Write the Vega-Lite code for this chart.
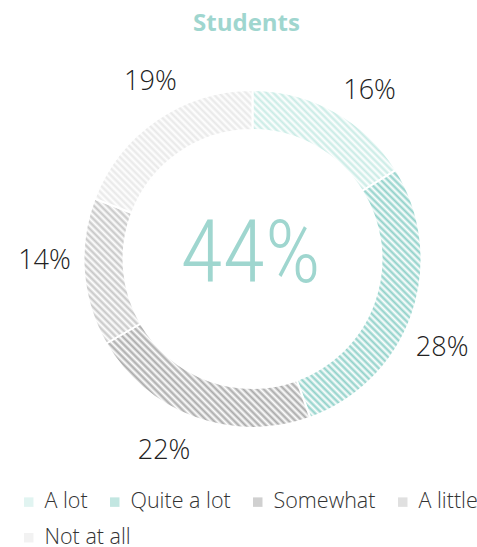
{
  "$schema": "https://vega.github.io/schema/vega-lite/v6.json",
  "width": 449,
  "height": 438,
  "autosize": {"type": "none"},
  "padding": {"left": 28, "top": 40, "right": 0, "bottom": 69},
  "background": "#ffffff",
  "title": {"text": "Students", "color": "#9fd6cf", "font": "Open Sans", "fontSize": 24, "fontWeight": "bold", "anchor": "middle", "offset": 4, "dx": -6},
  "config": {"view": {"stroke": null}, "legend": {"padding": 0}},
  "layer": [
    {
      "data": {"values": [
        {"cat": "A lot", "value": 16, "order": 1, "label": "16%"},
        {"cat": "Quite a lot", "value": 28, "order": 2, "label": "28%"},
        {"cat": "Somewhat", "value": 22, "order": 3, "label": "22%"},
        {"cat": "A little", "value": 14, "order": 4, "label": "14%"},
        {"cat": "Not at all", "value": 19, "order": 5, "label": "19%"}
      ]},
      "resolve": {"scale": {"theta": "independent"}},
      "layer": [
        {
          "mark": {"type": "arc", "outerRadius": 169, "innerRadius": 129, "stroke": "#ffffff", "strokeWidth": 2},
          "encoding": {
            "theta": {"field": "value", "type": "quantitative", "stack": true},
            "order": {"field": "order", "type": "quantitative"},
            "color": {
              "field": "cat", "type": "nominal",
              "scale": {"domain": ["A lot", "Quite a lot", "Somewhat", "A little", "Not at all"], "range": ["#c8ebe5", "#8fd1c9", "#a9a9a9", "#c6c6c6", "#e8e8e8"]},
              "legend": {"orient": "none", "legendX": -10, "legendY": 451, "direction": "horizontal", "values": ["A lot", "Quite a lot", "Somewhat", "A little"], "title": null, "padding": 0, "labelFont": "Open Sans", "labelFontWeight": 300, "labelFontSize": 21.5, "labelColor": "#333333", "labelLimit": 200, "symbolType": "square", "symbolSize": 90, "symbolOpacity": 0.55, "symbolStrokeWidth": 0, "columnPadding": 16, "labelOffset": 5}
            }
          }
        },
        {
          "data": {"values": [{"v": 1}]},
          "mark": {"type": "arc", "outerRadius": 170, "innerRadius": 128, "fill": {"gradient": "linear", "x1": 0, "y1": 1, "x2": 1, "y2": 0, "stops": [
            {"offset":0,"color":"#ffffff"},{"offset":0.005,"color":"#ffffff00"},{"offset":0.01,"color":"#ffffff"},{"offset":0.015,"color":"#ffffff00"},{"offset":0.02,"color":"#ffffff"},{"offset":0.025,"color":"#ffffff00"},{"offset":0.03,"color":"#ffffff"},{"offset":0.035,"color":"#ffffff00"},{"offset":0.04,"color":"#ffffff"},{"offset":0.045,"color":"#ffffff00"},
            {"offset":0.05,"color":"#ffffff"},{"offset":0.055,"color":"#ffffff00"},{"offset":0.06,"color":"#ffffff"},{"offset":0.065,"color":"#ffffff00"},{"offset":0.07,"color":"#ffffff"},{"offset":0.075,"color":"#ffffff00"},{"offset":0.08,"color":"#ffffff"},{"offset":0.085,"color":"#ffffff00"},{"offset":0.09,"color":"#ffffff"},{"offset":0.095,"color":"#ffffff00"},
            {"offset":0.1,"color":"#ffffff"},{"offset":0.105,"color":"#ffffff00"},{"offset":0.11,"color":"#ffffff"},{"offset":0.115,"color":"#ffffff00"},{"offset":0.12,"color":"#ffffff"},{"offset":0.125,"color":"#ffffff00"},{"offset":0.13,"color":"#ffffff"},{"offset":0.135,"color":"#ffffff00"},{"offset":0.14,"color":"#ffffff"},{"offset":0.145,"color":"#ffffff00"},
            {"offset":0.15,"color":"#ffffff"},{"offset":0.155,"color":"#ffffff00"},{"offset":0.16,"color":"#ffffff"},{"offset":0.165,"color":"#ffffff00"},{"offset":0.17,"color":"#ffffff"},{"offset":0.175,"color":"#ffffff00"},{"offset":0.18,"color":"#ffffff"},{"offset":0.185,"color":"#ffffff00"},{"offset":0.19,"color":"#ffffff"},{"offset":0.195,"color":"#ffffff00"},
            {"offset":0.2,"color":"#ffffff"},{"offset":0.205,"color":"#ffffff00"},{"offset":0.21,"color":"#ffffff"},{"offset":0.215,"color":"#ffffff00"},{"offset":0.22,"color":"#ffffff"},{"offset":0.225,"color":"#ffffff00"},{"offset":0.23,"color":"#ffffff"},{"offset":0.235,"color":"#ffffff00"},{"offset":0.24,"color":"#ffffff"},{"offset":0.245,"color":"#ffffff00"},
            {"offset":0.25,"color":"#ffffff"},{"offset":0.255,"color":"#ffffff00"},{"offset":0.26,"color":"#ffffff"},{"offset":0.265,"color":"#ffffff00"},{"offset":0.27,"color":"#ffffff"},{"offset":0.275,"color":"#ffffff00"},{"offset":0.28,"color":"#ffffff"},{"offset":0.285,"color":"#ffffff00"},{"offset":0.29,"color":"#ffffff"},{"offset":0.295,"color":"#ffffff00"},
            {"offset":0.3,"color":"#ffffff"},{"offset":0.305,"color":"#ffffff00"},{"offset":0.31,"color":"#ffffff"},{"offset":0.315,"color":"#ffffff00"},{"offset":0.32,"color":"#ffffff"},{"offset":0.325,"color":"#ffffff00"},{"offset":0.33,"color":"#ffffff"},{"offset":0.335,"color":"#ffffff00"},{"offset":0.34,"color":"#ffffff"},{"offset":0.345,"color":"#ffffff00"},
            {"offset":0.35,"color":"#ffffff"},{"offset":0.355,"color":"#ffffff00"},{"offset":0.36,"color":"#ffffff"},{"offset":0.365,"color":"#ffffff00"},{"offset":0.37,"color":"#ffffff"},{"offset":0.375,"color":"#ffffff00"},{"offset":0.38,"color":"#ffffff"},{"offset":0.385,"color":"#ffffff00"},{"offset":0.39,"color":"#ffffff"},{"offset":0.395,"color":"#ffffff00"},
            {"offset":0.4,"color":"#ffffff"},{"offset":0.405,"color":"#ffffff00"},{"offset":0.41,"color":"#ffffff"},{"offset":0.415,"color":"#ffffff00"},{"offset":0.42,"color":"#ffffff"},{"offset":0.425,"color":"#ffffff00"},{"offset":0.43,"color":"#ffffff"},{"offset":0.435,"color":"#ffffff00"},{"offset":0.44,"color":"#ffffff"},{"offset":0.445,"color":"#ffffff00"},
            {"offset":0.45,"color":"#ffffff"},{"offset":0.455,"color":"#ffffff00"},{"offset":0.46,"color":"#ffffff"},{"offset":0.465,"color":"#ffffff00"},{"offset":0.47,"color":"#ffffff"},{"offset":0.475,"color":"#ffffff00"},{"offset":0.48,"color":"#ffffff"},{"offset":0.485,"color":"#ffffff00"},{"offset":0.49,"color":"#ffffff"},{"offset":0.495,"color":"#ffffff00"},
            {"offset":0.5,"color":"#ffffff"},{"offset":0.505,"color":"#ffffff00"},{"offset":0.51,"color":"#ffffff"},{"offset":0.515,"color":"#ffffff00"},{"offset":0.52,"color":"#ffffff"},{"offset":0.525,"color":"#ffffff00"},{"offset":0.53,"color":"#ffffff"},{"offset":0.535,"color":"#ffffff00"},{"offset":0.54,"color":"#ffffff"},{"offset":0.545,"color":"#ffffff00"},
            {"offset":0.55,"color":"#ffffff"},{"offset":0.555,"color":"#ffffff00"},{"offset":0.56,"color":"#ffffff"},{"offset":0.565,"color":"#ffffff00"},{"offset":0.57,"color":"#ffffff"},{"offset":0.575,"color":"#ffffff00"},{"offset":0.58,"color":"#ffffff"},{"offset":0.585,"color":"#ffffff00"},{"offset":0.59,"color":"#ffffff"},{"offset":0.595,"color":"#ffffff00"},
            {"offset":0.6,"color":"#ffffff"},{"offset":0.605,"color":"#ffffff00"},{"offset":0.61,"color":"#ffffff"},{"offset":0.615,"color":"#ffffff00"},{"offset":0.62,"color":"#ffffff"},{"offset":0.625,"color":"#ffffff00"},{"offset":0.63,"color":"#ffffff"},{"offset":0.635,"color":"#ffffff00"},{"offset":0.64,"color":"#ffffff"},{"offset":0.645,"color":"#ffffff00"},
            {"offset":0.65,"color":"#ffffff"},{"offset":0.655,"color":"#ffffff00"},{"offset":0.66,"color":"#ffffff"},{"offset":0.665,"color":"#ffffff00"},{"offset":0.67,"color":"#ffffff"},{"offset":0.675,"color":"#ffffff00"},{"offset":0.68,"color":"#ffffff"},{"offset":0.685,"color":"#ffffff00"},{"offset":0.69,"color":"#ffffff"},{"offset":0.695,"color":"#ffffff00"},
            {"offset":0.7,"color":"#ffffff"},{"offset":0.705,"color":"#ffffff00"},{"offset":0.71,"color":"#ffffff"},{"offset":0.715,"color":"#ffffff00"},{"offset":0.72,"color":"#ffffff"},{"offset":0.725,"color":"#ffffff00"},{"offset":0.73,"color":"#ffffff"},{"offset":0.735,"color":"#ffffff00"},{"offset":0.74,"color":"#ffffff"},{"offset":0.745,"color":"#ffffff00"},
            {"offset":0.75,"color":"#ffffff"},{"offset":0.755,"color":"#ffffff00"},{"offset":0.76,"color":"#ffffff"},{"offset":0.765,"color":"#ffffff00"},{"offset":0.77,"color":"#ffffff"},{"offset":0.775,"color":"#ffffff00"},{"offset":0.78,"color":"#ffffff"},{"offset":0.785,"color":"#ffffff00"},{"offset":0.79,"color":"#ffffff"},{"offset":0.795,"color":"#ffffff00"},
            {"offset":0.8,"color":"#ffffff"},{"offset":0.805,"color":"#ffffff00"},{"offset":0.81,"color":"#ffffff"},{"offset":0.815,"color":"#ffffff00"},{"offset":0.82,"color":"#ffffff"},{"offset":0.825,"color":"#ffffff00"},{"offset":0.83,"color":"#ffffff"},{"offset":0.835,"color":"#ffffff00"},{"offset":0.84,"color":"#ffffff"},{"offset":0.845,"color":"#ffffff00"},
            {"offset":0.85,"color":"#ffffff"},{"offset":0.855,"color":"#ffffff00"},{"offset":0.86,"color":"#ffffff"},{"offset":0.865,"color":"#ffffff00"},{"offset":0.87,"color":"#ffffff"},{"offset":0.875,"color":"#ffffff00"},{"offset":0.88,"color":"#ffffff"},{"offset":0.885,"color":"#ffffff00"},{"offset":0.89,"color":"#ffffff"},{"offset":0.895,"color":"#ffffff00"},
            {"offset":0.9,"color":"#ffffff"},{"offset":0.905,"color":"#ffffff00"},{"offset":0.91,"color":"#ffffff"},{"offset":0.915,"color":"#ffffff00"},{"offset":0.92,"color":"#ffffff"},{"offset":0.925,"color":"#ffffff00"},{"offset":0.93,"color":"#ffffff"},{"offset":0.935,"color":"#ffffff00"},{"offset":0.94,"color":"#ffffff"},{"offset":0.945,"color":"#ffffff00"},
            {"offset":0.95,"color":"#ffffff"},{"offset":0.955,"color":"#ffffff00"},{"offset":0.96,"color":"#ffffff"},{"offset":0.965,"color":"#ffffff00"},{"offset":0.97,"color":"#ffffff"},{"offset":0.975,"color":"#ffffff00"},{"offset":0.98,"color":"#ffffff"},{"offset":0.985,"color":"#ffffff00"},{"offset":0.99,"color":"#ffffff"},{"offset":0.995,"color":"#ffffff00"},
            {"offset":1,"color":"#ffffff"}
          ]}},
          "encoding": {
            "theta": {"field": "v", "type": "quantitative", "stack": true}
          }
        },
        {
          "mark": {"type": "text", "radius": 208, "font": "Open Sans", "fontWeight": 300, "fontSize": 27, "color": "#222222", "dy": 4},
          "encoding": {
            "theta": {"field": "value", "type": "quantitative", "stack": true, "scale": {"range": [0.09, 6.3732]}},
            "order": {"field": "order", "type": "quantitative"},
            "text": {"field": "label"}
          }
        }
      ]
    },
    {
      "data": {"values": [{"t": "44%"}]},
      "mark": {"type": "text", "font": "Roboto Condensed, DejaVu Sans Condensed, sans-serif", "fontWeight": 300, "fontSize": 87, "color": "#9fd6cf", "baseline": "middle", "dy": -3, "dx": -2},
      "encoding": {"text": {"field": "t"}}
    },
    {
      "data": {"values": [{"cat2": "Not at all"}]},
      "mark": {"type": "point", "shape": "square", "filled": true, "size": 0},
      "encoding": {
        "fill": {
          "field": "cat2", "type": "nominal",
          "scale": {"domain": ["Not at all"], "range": ["#e8e8e8"]},
          "legend": {"orient": "none", "legendX": -10, "legendY": 487, "direction": "horizontal", "title": null, "padding": 0, "labelFont": "Open Sans", "labelFontWeight": 300, "labelFontSize": 21.5, "labelColor": "#333333", "labelLimit": 200, "symbolType": "square", "symbolSize": 90, "symbolOpacity": 0.55, "symbolStrokeWidth": 0, "labelOffset": 5}
        }
      }
    }
  ]
}
